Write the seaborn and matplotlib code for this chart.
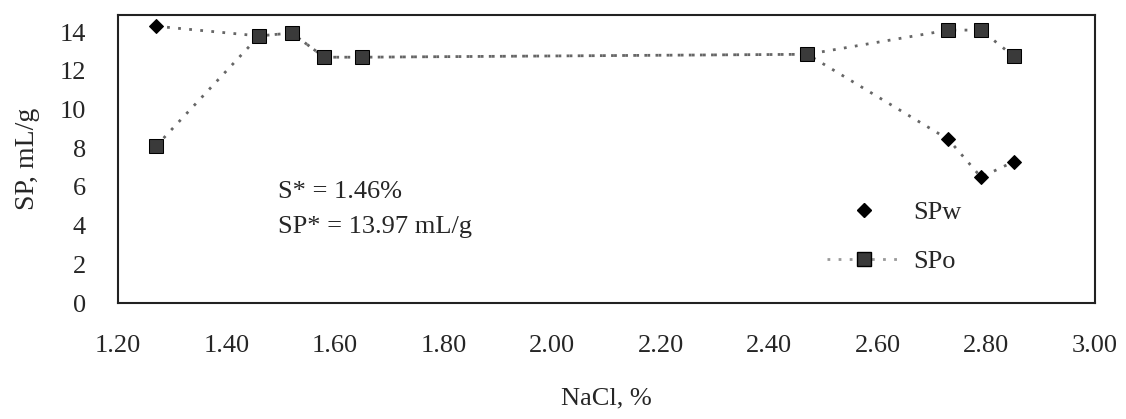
import numpy as np
import pandas as pd
import matplotlib
matplotlib.use('Agg')
import matplotlib.pyplot as plt
import seaborn as sns
from matplotlib.lines import Line2D

# data
nacl = [1.27, 1.46, 1.52, 1.58, 1.65, 2.47, 2.73, 2.79, 2.85]
sp_w = [14.3, 13.8, 13.95, 12.7, 12.7, 12.85, 8.45, 6.5, 7.3]
sp_o = [8.1, 13.8, 13.95, 12.7, 12.7, 12.85, 14.1, 14.1, 12.75]
xticks = [1.20, 1.40, 1.60, 1.80, 2.00, 2.20, 2.40, 2.60, 2.80, 3.00]
yticks = [0, 2, 4, 6, 8, 10, 12, 14]

sns.set_style('white')
plt.rcParams['font.family'] = ['Liberation Serif', 'DejaVu Serif']

df = pd.DataFrame({'NaCl': nacl, 'SPw': sp_w, 'SPo': sp_o})

dots = (0, (1, 3))
fig = plt.figure(figsize=(11.26, 4.19), dpi=100)
ax = fig.add_axes([0.1048, 0.2768, 0.8677, 0.6874])

sns.lineplot(data=df, x='NaCl', y='SPw', ax=ax, color='#666666', linestyle=dots,
             linewidth=2, marker='D', markersize=7, markerfacecolor='black',
             markeredgecolor='black', sort=False)
sns.lineplot(data=df, x='NaCl', y='SPo', ax=ax, color='#666666', linestyle=dots,
             linewidth=2, marker='s', markersize=10, markerfacecolor='#3a3a3a',
             markeredgecolor='black', sort=False)

ax.set_xlim(1.20, 3.00)
ax.set_ylim(0, 14.88)
ax.set_xticks(xticks)
ax.set_xticklabels([f'{t:.2f}' for t in xticks])
ax.set_yticks(yticks)
ax.tick_params(axis='both', direction='inout', length=14, width=1, color='#dddddd',
               labelsize=19)
ax.tick_params(axis='x', pad=16)
ax.tick_params(axis='y', pad=16)
for s in ax.spines.values():
    s.set_color('#222222')
    s.set_linewidth(1.5)

ax.set_xlabel('NaCl, %', fontsize=19, labelpad=22)
ax.set_ylabel('SP, mL/g', fontsize=20, labelpad=14)

ax.text(0.164, 0.385, 'S* = 1.46%', transform=ax.transAxes, fontsize=19, va='center')
ax.text(0.164, 0.264, 'SP* = 13.97 mL/g', transform=ax.transAxes, fontsize=19, va='center')

handles = [
    Line2D([], [], color='none', marker='D', markersize=7,
           markerfacecolor='black', markeredgecolor='black', label='SPw'),
    Line2D([], [], color='#999999', linestyle=dots, linewidth=2, marker='s',
           markersize=10, markerfacecolor='#3a3a3a', markeredgecolor='black',
           label='SPo'),
]
ax.legend(handles=handles, loc='upper left', bbox_to_anchor=(0.726, 0.355),
          frameon=False, fontsize=19, handlelength=2.8, handletextpad=0.45,
          labelspacing=0.95, borderpad=0, borderaxespad=0)

fig.savefig('out.png', dpi=100)
